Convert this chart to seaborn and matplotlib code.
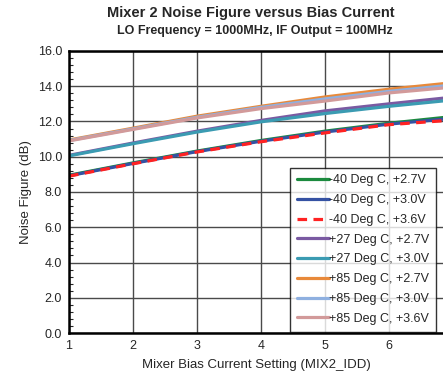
import pandas as pd
import seaborn as sns
import matplotlib.pyplot as plt
from matplotlib.ticker import MultipleLocator

# Data
bias_setting = [1, 2, 3, 4, 5, 6, 7]
series_names = [
    "-40 Deg C, +2.7V", "-40 Deg C, +3.0V", "-40 Deg C, +3.6V",
    "+27 Deg C, +2.7V", "+27 Deg C, +3.0V",
    "+85 Deg C, +2.7V", "+85 Deg C, +3.0V", "+85 Deg C, +3.6V",
]
nf_m40_27 = [8.95, 9.65, 10.32, 10.92, 11.45, 11.90, 12.28]
nf_m40_30 = [8.92, 9.62, 10.29, 10.88, 11.40, 11.85, 12.18]
nf_m40_36 = [8.90, 9.60, 10.27, 10.85, 11.35, 11.82, 12.08]
nf_p27_27 = [10.08, 10.78, 11.45, 12.06, 12.60, 13.00, 13.38]
nf_p27_30 = [10.05, 10.74, 11.40, 11.98, 12.45, 12.86, 13.22]
nf_p85_27 = [10.95, 11.62, 12.30, 12.86, 13.39, 13.83, 14.20]
nf_p85_30 = [10.92, 11.58, 12.24, 12.80, 13.28, 13.71, 14.07]
nf_p85_36 = [10.90, 11.55, 12.20, 12.73, 13.16, 13.62, 13.95]
all_values = [nf_m40_27, nf_m40_30, nf_m40_36, nf_p27_27, nf_p27_30,
              nf_p85_27, nf_p85_30, nf_p85_36]

colors = ["#1b8a3e", "#3552a3", "#ff2222", "#7a5aa2", "#3b9bb2",
          "#e8893a", "#8fb0e0", "#d29a9a"]

# long table for seaborn
rows = []
for name, vals in zip(series_names, all_values):
    for x, v in zip(bias_setting, vals):
        rows.append({"setting": x, "nf": v, "series": name})
df = pd.DataFrame(rows)

sns.set_style("white")
plt.rcParams['font.family'] = ['Liberation Sans', 'DejaVu Sans']

fig = plt.figure(figsize=(4.43, 3.79), dpi=100)
ax = fig.add_axes([69 / 443, 46 / 379, 1 - 69 / 443, 282 / 379])

dashes = {n: "" for n in series_names}
dashes["-40 Deg C, +3.6V"] = (3, 2)
sns.lineplot(data=df, x="setting", y="nf", hue="series", style="series",
             hue_order=series_names, style_order=series_names,
             palette=colors, dashes=dashes, linewidth=2.3, ax=ax)

ax.set_xlim(1, 6.85)
ax.set_ylim(0, 16)
ax.xaxis.set_major_locator(MultipleLocator(1))
ax.yaxis.set_major_locator(MultipleLocator(2))
ax.yaxis.set_minor_locator(MultipleLocator(0.4))
ax.set_yticklabels([f"{v:.1f}" for v in ax.get_yticks()])
ax.tick_params(axis="both", which="major", direction="out", length=3,
               width=1, labelsize=9, color="black", pad=2)
ax.tick_params(axis="y", which="minor", direction="in", length=3,
               width=0.8, left=True)
ax.grid(True, which="major", color="#4a4a4a", linewidth=1)

for side in ["left", "bottom", "top"]:
    ax.spines[side].set_color("black")
    ax.spines[side].set_linewidth(1.8)
ax.spines["right"].set_visible(False)

ax.set_xlabel("Mixer Bias Current Setting (MIX2_IDD)", fontsize=9.5, labelpad=5)
ax.set_ylabel("Noise Figure (dB)", fontsize=9.5, labelpad=4)

leg = ax.legend(loc="lower right", bbox_to_anchor=(0.982, 0.005), fontsize=9,
                frameon=True, fancybox=False, edgecolor="black",
                handlelength=2.5, handletextpad=0.05, labelspacing=0.62,
                borderpad=0.55, borderaxespad=0)
leg.get_frame().set_linewidth(1.0)

fig.text(0.567, 0.965, "Mixer 2 Noise Figure versus Bias Current",
         ha="center", va="center", fontsize=10.5, fontweight="bold")
fig.text(0.575, 0.918, "LO Frequency = 1000MHz, IF Output = 100MHz",
         ha="center", va="center", fontsize=9, fontweight="bold")

fig.savefig("out.png", dpi=100)
